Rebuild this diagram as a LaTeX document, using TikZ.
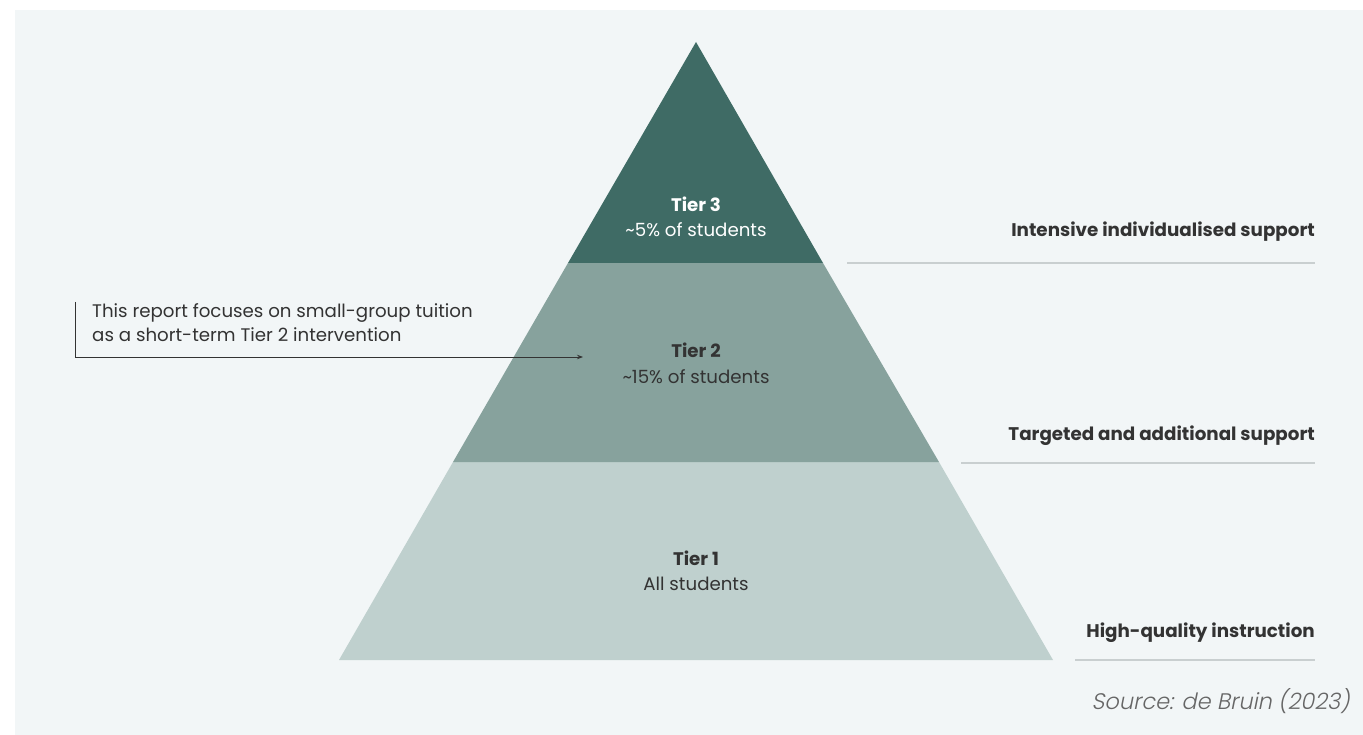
\documentclass[tikz,border=0pt]{standalone}
\usepackage{fontspec}
\setmainfont{Poppins}
\newfontfamily\srcfont[FakeSlant=0.2]{Poppins Light}
\usetikzlibrary{arrows.meta}
\definecolor{bgc}{HTML}{F2F6F7}
\definecolor{tthree}{HTML}{3F6B65}
\definecolor{ttwo}{HTML}{87A29D}
\definecolor{tone}{HTML}{BFD0CE}
\definecolor{rulec}{HTML}{C9CFD0}
\definecolor{txt}{HTML}{333333}
\definecolor{srcc}{HTML}{666666}
\tikzset{
  tiertitle/.style={font=\fontsize{18.2}{21}\selectfont\bfseries, anchor=center, inner sep=0pt},
  tiersub/.style={font=\fontsize{18.2}{21}\selectfont\fontseries{l}\selectfont, anchor=center, inner sep=0pt},
  sidelabel/.style={font=\fontsize{18.3}{21}\selectfont\bfseries, text=txt, anchor=east, inner sep=0pt},
  siderule/.style={draw=rulec, line width=1.2pt},
  note/.style={font=\fontsize{18.2}{24}\selectfont\fontseries{l}\selectfont, text=txt, anchor=north west, align=left, inner sep=0pt},
}
\begin{document}
\begin{tikzpicture}[x=1pt,y=-1pt]
\useasboundingbox (0,0) rectangle (1363,735);
\fill[bgc] (15,10) rectangle (1363,735);
% pyramid
\coordinate (apex) at (696,42);
\coordinate (bl) at (339,660);
\coordinate (br) at (1053,660);
\coordinate (l2) at (453,462);
\coordinate (r2) at (939,462);
\coordinate (l3) at (568,263);
\coordinate (r3) at (823,263);
\fill[tone] (bl) -- (br) -- (r2) -- (l2) -- cycle;
\fill[ttwo] (l2) -- (r2) -- (r3) -- (l3) -- cycle;
\fill[tthree] (l3) -- (r3) -- (apex) -- cycle;
% tier texts
\node[tiertitle, text=white] (t3a) at (696,204) {Tier 3};
\node[tiersub, text=white] (t3b) at (696,230) {\textasciitilde 5\% of students};
\node[tiertitle, text=txt] (t2a) at (696,350) {Tier 2};
\node[tiersub, text=txt] (t2b) at (696,377) {\textasciitilde 15\% of students};
\node[tiertitle, text=txt] (t1a) at (696,558) {Tier 1};
\node[tiersub, text=txt] (t1b) at (696,584) {All students};
% side labels
\node[sidelabel] (s3) at (1315,232) {Intensive individualised support};
\node[sidelabel] (s2) at (1315,436) {Targeted and additional support};
\node[sidelabel] (s1) at (1315,633) {High-quality instruction};
\coordinate (s3l) at (847,263); \coordinate (s3r) at (1315,263);
\coordinate (s2l) at (961,463); \coordinate (s2r) at (1315,463);
\coordinate (s1l) at (1075,660); \coordinate (s1r) at (1315,660);
\draw[siderule] (s3l) -- (s3r);
\draw[siderule] (s2l) -- (s2r);
\draw[siderule] (s1l) -- (s1r);
% annotation
\node[note] (note) at (92,303) {This report focuses on small-group tuition\\as a short-term Tier 2 intervention};
\coordinate (ntop) at (75,302);
\coordinate (ncorner) at (75,357);
\coordinate (ntip) at (583,357);
\draw[txt, line width=0.9pt, -{Stealth[length=6pt,width=4.5pt]}] (ntop) -- (ncorner) -- (ntip);
% source
\node[font=\fontsize{22.5}{26}\selectfont\srcfont, text=srcc, anchor=east, inner sep=0pt] (src) at (1350,701) {Source: de Bruin (2023)};
\end{tikzpicture}
\end{document}
